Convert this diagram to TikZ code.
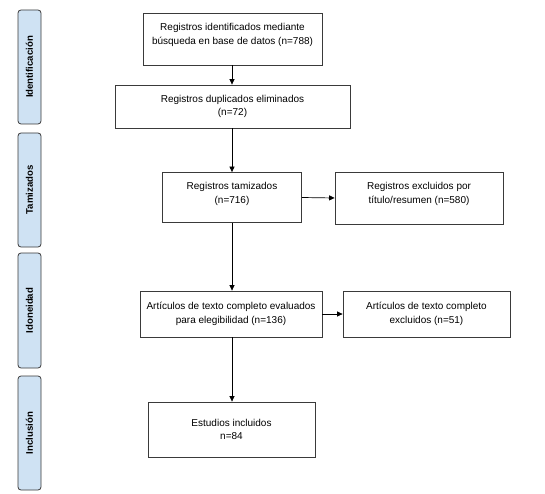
\documentclass[tikz,border=0pt]{standalone}
\usepackage{fontspec}
\setmainfont{Liberation Sans}
\usetikzlibrary{arrows.meta}
\definecolor{phasefill}{HTML}{CFE2F3}
\definecolor{boxline}{HTML}{3A3A3A}
\begin{document}
\begin{tikzpicture}[x=1pt,y=-1pt,
  box/.style={draw=boxline,line width=0.8pt,fill=white,inner sep=0pt,align=center,font=\fontsize{10}{13.5}\selectfont},
  phase/.style={draw=boxline,line width=0.8pt,fill=phasefill,rounded corners=3pt,inner sep=0pt},
  phasetext/.style={rotate=90,font=\fontsize{9.6}{11}\selectfont\bfseries},
  arr/.style={-{Triangle[length=5.5pt,width=5pt]},line width=0.7pt,black}]
\useasboundingbox (0,0) rectangle (545,494);
% phase labels
\node[phase,minimum width=23pt,minimum height=114pt] (p1) at (29.5,67) {};
\node[phasetext] (p1t) at (p1.center) {Identificación};
\node[phase,minimum width=23pt,minimum height=114pt] (p2) at (29.5,190) {};
\node[phasetext] (p2t) at (p2.center) {Tamizados};
\node[phase,minimum width=23pt,minimum height=115pt] (p3) at (29.5,310.5) {};
\node[phasetext] (p3t) at (p3.center) {Idoneidad};
\node[phase,minimum width=23pt,minimum height=114pt] (p4) at (29.5,433) {};
\node[phasetext] (p4t) at (p4.center) {Inclusión};
% boxes
\node[box,minimum width=179pt,minimum height=52pt] (b1) at (232.5,39) {Registros identificados mediante\\búsqueda en base de datos (n=788)\\[-3.5pt]};
\node[box,minimum width=235pt,minimum height=43pt] (b2) at (232.5,106.5) {Registros duplicados eliminados\\(n=72)};
\node[box,minimum width=139pt,minimum height=50pt] (b3) at (232,197.5) {Registros tamizados\\(n=716)\\[-4.5pt]};
\node[box,minimum width=168pt,minimum height=52pt] (b4) at (419,198) {Registros excluidos por\\título/resumen (n=580)\\[-3.5pt]};
\node[box,minimum width=182pt,minimum height=46pt] (b5) at (231,314) {Artículos de texto completo evaluados\\para elegibilidad (n=136)};
\node[box,minimum width=167pt,minimum height=46pt] (b6) at (426.5,314) {Artículos de texto completo\\excluidos (n=51)};
\node[box,minimum width=167pt,minimum height=55pt] (b7) at (231.5,429.5) {Estudios incluidos\\n=84};
% connectors
\draw[arr] (b1.south -| 232,0) -- (b2.north -| 232,0);
\draw[arr] (b2.south -| 232,0) -- (b3.north -| 232,0);
\draw[arr] (b3.east) -- (b4.west);
\draw[arr] (b3.south -| 232,0) -- (b5.north -| 232,0);
\draw[arr] (b5.east) -- (b6.west);
\draw[arr] (b5.south -| 232,0) -- (b7.north -| 232,0);
\end{tikzpicture}
\end{document}
